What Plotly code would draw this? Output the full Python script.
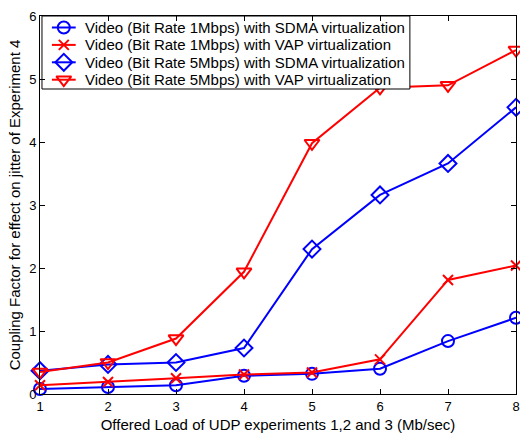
import plotly.graph_objects as go

# Offered load of UDP experiments 1, 2 and 3 (Mb/sec)
offered_load = [1, 2, 3, 4, 5, 6, 7, 8]

# Coupling factor for jitter of experiment 4
video_1mbps_sdma = [0.08, 0.11, 0.14, 0.29, 0.32, 0.40, 0.84, 1.21]
video_1mbps_vap = [0.14, 0.19, 0.25, 0.31, 0.34, 0.55, 1.81, 2.04]
video_5mbps_sdma = [0.37, 0.47, 0.50, 0.73, 2.30, 3.16, 3.66, 4.55]
video_5mbps_vap = [0.35, 0.50, 0.88, 1.94, 3.98, 4.86, 4.90, 5.46]

series_names = [
    "Video (Bit Rate 1Mbps) with SDMA virtualization",
    "Video (Bit Rate 1Mbps) with VAP virtualization",
    "Video (Bit Rate 5Mbps) with SDMA virtualization",
    "Video (Bit Rate 5Mbps) with VAP virtualization",
]
series_values = [video_1mbps_sdma, video_1mbps_vap, video_5mbps_sdma, video_5mbps_vap]
series_colors = ["#0000ff", "#ff0000", "#0000ff", "#ff0000"]
series_symbols = ["circle-open", "x-thin-open", "diamond-open", "triangle-down-open"]
series_sizes = [12, 10, 13, 13]

font_family = "Liberation Sans, Arial, Helvetica, sans-serif"

# Plot area in pixels (left, right, top, bottom)
PL, PR, PT, PB = 40, 520, 16, 394

# Legend geometry in pixels, laid out on an overlay axis pair mapped 1:1 to pixels
LEG_LEFT, LEG_RIGHT, LEG_TOP, LEG_BOTTOM = 42, 413, 16, 89
LEG_ROW0, LEG_ROW_STEP = 27.5, 17.4
LEG_LINE_X0, LEG_LINE_X1, LEG_TEXT_X = 52, 76, 83

fig = go.Figure()
for name, vals, color, sym, size in zip(series_names, series_values, series_colors,
                                        series_symbols, series_sizes):
    fig.add_trace(go.Scatter(
        x=offered_load, y=vals, name=name, mode="lines+markers",
        line=dict(color=color, width=2),
        marker=dict(symbol=sym, size=size, color=color, line=dict(color=color, width=2)),
        cliponaxis=False, showlegend=False,
    ))

# Legend box
fig.add_trace(go.Scatter(
    x=[LEG_LEFT, LEG_RIGHT, LEG_RIGHT, LEG_LEFT, LEG_LEFT],
    y=[LEG_TOP, LEG_TOP, LEG_BOTTOM, LEG_BOTTOM, LEG_TOP],
    xaxis="x2", yaxis="y2", mode="lines", fill="toself", fillcolor="white",
    line=dict(color="black", width=1), showlegend=False, hoverinfo="skip",
    cliponaxis=False,
))

# Legend entries: sample line with marker, plus label
for i, (name, color, sym, size) in enumerate(zip(series_names, series_colors,
                                                   series_symbols, series_sizes)):
    row_y = LEG_ROW0 + i * LEG_ROW_STEP
    fig.add_trace(go.Scatter(
        x=[LEG_LINE_X0, LEG_LINE_X1], y=[row_y, row_y], xaxis="x2", yaxis="y2",
        mode="lines", line=dict(color=color, width=2),
        showlegend=False, hoverinfo="skip", cliponaxis=False,
    ))
    fig.add_trace(go.Scatter(
        x=[(LEG_LINE_X0 + LEG_LINE_X1) / 2], y=[row_y], xaxis="x2", yaxis="y2",
        mode="markers",
        marker=dict(symbol=sym, size=size, color=color, line=dict(color=color, width=2)),
        showlegend=False, hoverinfo="skip", cliponaxis=False,
    ))
    fig.add_annotation(
        x=LEG_TEXT_X, y=row_y, xref="x2", yref="y2", text=name, showarrow=False,
        xanchor="left", yanchor="middle",
        font=dict(family=font_family, size=15, color="black"),
    )

fig.update_layout(
    width=520, height=434,
    margin=dict(l=PL, r=520 - PR, t=PT, b=434 - PB),
    paper_bgcolor="white", plot_bgcolor="white",
    font=dict(family=font_family, size=13, color="black"),
    showlegend=False,
    xaxis=dict(
        range=[1, 8], tickvals=offered_load, showgrid=False, zeroline=False,
        showline=True, linecolor="black", linewidth=1, mirror="ticks",
        ticks="inside", ticklen=5, tickcolor="black",
        tickfont=dict(size=13), ticklabeloverflow="allow",
        title=dict(text="Offered Load of UDP experiments 1,2 and 3 (Mb/sec)",
                   font=dict(size=15), standoff=6),
    ),
    yaxis=dict(
        range=[0, 6], tickvals=[0, 1, 2, 3, 4, 5, 6], showgrid=False, zeroline=False,
        showline=True, linecolor="black", linewidth=1, mirror="ticks",
        ticks="inside", ticklen=5, tickcolor="black",
        tickfont=dict(size=13),
        title=dict(text="Coupling Factor for effect on jitter of Experiment 4",
                   font=dict(size=15), standoff=4),
    ),
    xaxis2=dict(range=[PL, PR], overlaying="x", visible=False, fixedrange=True),
    yaxis2=dict(range=[PB, PT], overlaying="y", visible=False, fixedrange=True),
)

fig.write_html("out.html")
